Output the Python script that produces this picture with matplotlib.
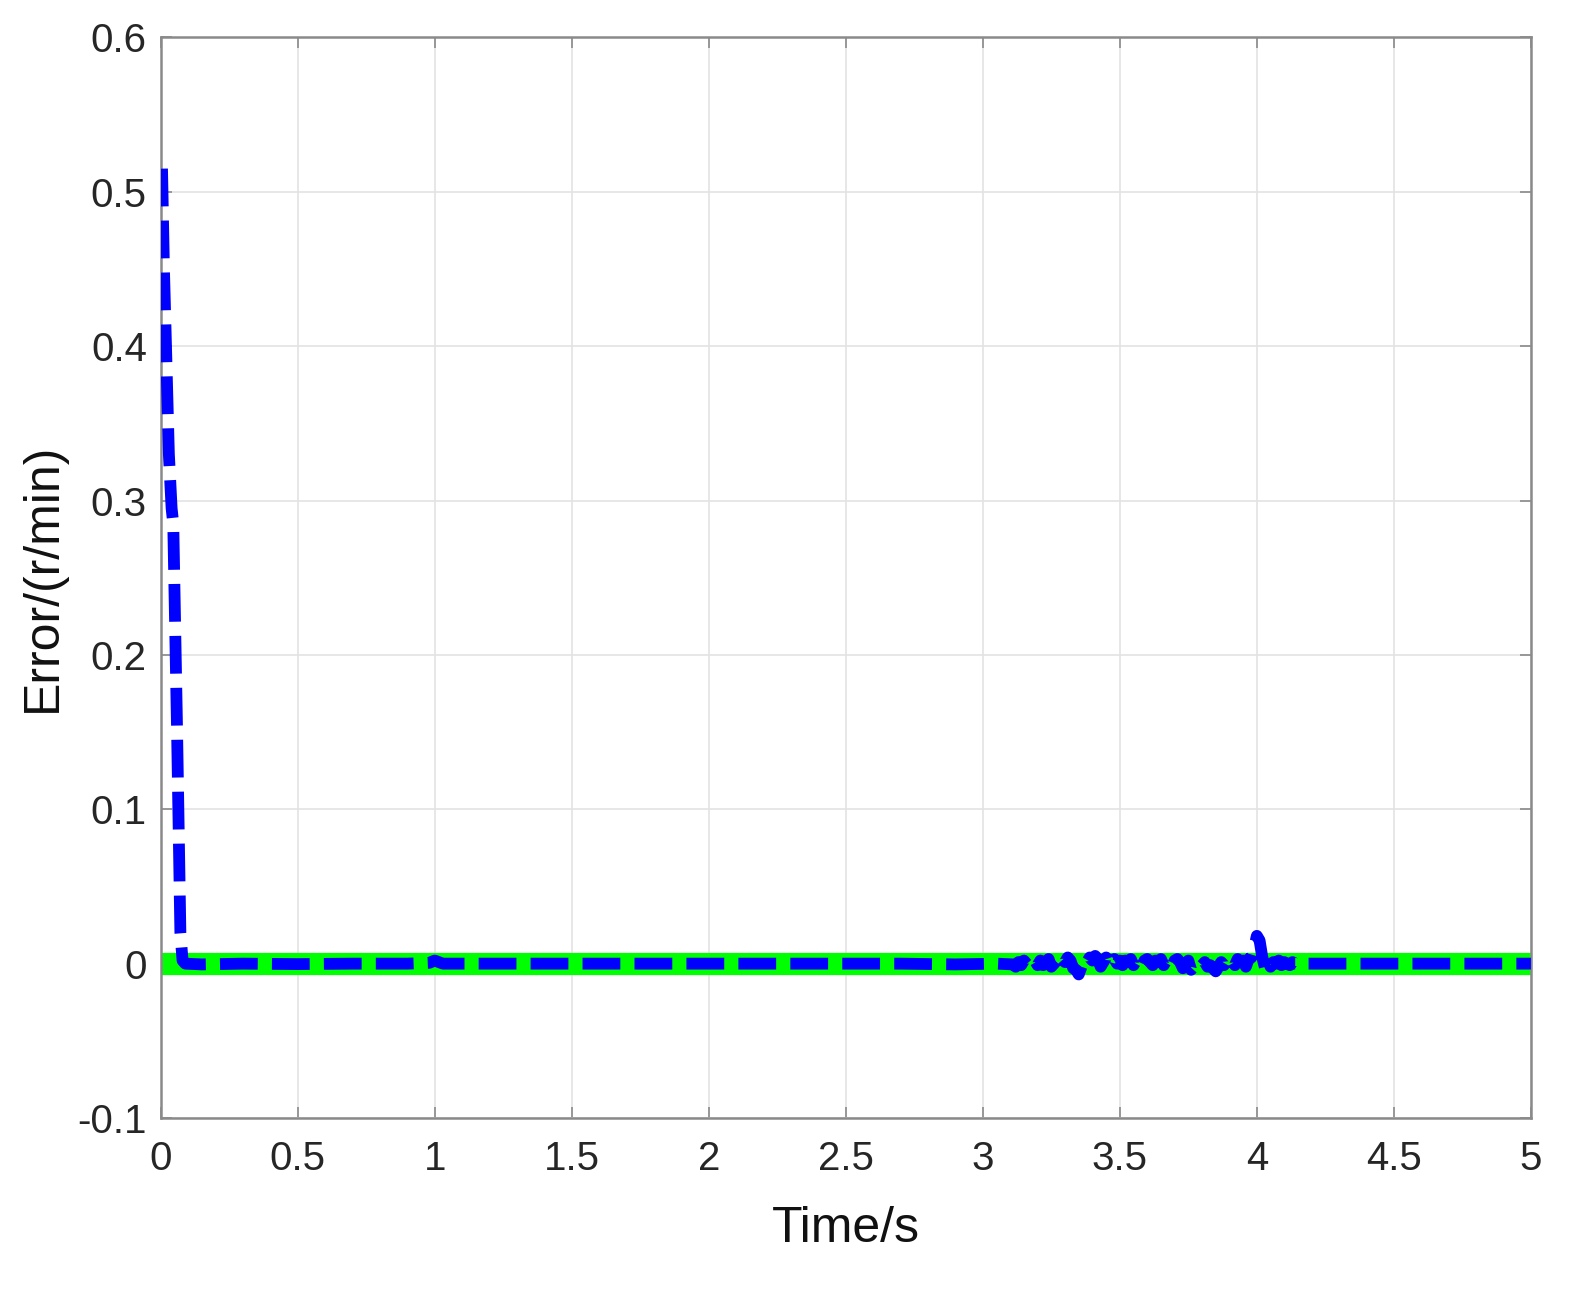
import numpy as np
import matplotlib.pyplot as plt

plt.rcParams['font.family'] = ['Liberation Sans', 'DejaVu Sans']
plt.rcParams['axes.unicode_minus'] = False

# reference signal (zero error)
ref_t = [0.0, 5.0]
ref_err = [0.0, 0.0]

# speed error: initial transient
t_start = [0.005, 0.012, 0.030, 0.040, 0.046, 0.060, 0.072, 0.080, 0.090]
e_start = [0.515, 0.450, 0.330, 0.295, 0.285, 0.150, 0.020, 0.002, 0.0]

# steady part up to the disturbance
t_mid = [0.15, 0.30, 0.50, 0.70, 0.90, 0.98, 1.00, 1.03, 1.20, 1.50, 1.80,
         2.10, 2.40, 2.70, 2.90, 3.05, 3.11]
e_mid = [-0.0005, 0.0, -0.0003, 0.0, 0.0, 0.0005, 0.002, 0.0, 0.0, 0.0, 0.0,
         0.0, 0.0, 0.0, -0.0005, 0.0, -0.0005]

# disturbance region 3.12 .. 4.20 s
t_dist = [3.12, 3.13, 3.14, 3.15, 3.16, 3.17, 3.18, 3.19, 3.20,
          3.21, 3.22, 3.23, 3.24, 3.25, 3.26, 3.27, 3.28, 3.29, 3.30,
          3.31, 3.32, 3.33, 3.34, 3.35, 3.36, 3.37, 3.38, 3.39, 3.40,
          3.41, 3.42, 3.43, 3.44, 3.45, 3.46, 3.47, 3.48, 3.49, 3.50,
          3.51, 3.52, 3.53, 3.54, 3.55, 3.56, 3.57, 3.58, 3.59, 3.60,
          3.61, 3.62, 3.63, 3.64, 3.65, 3.66, 3.67, 3.68, 3.69, 3.70,
          3.71, 3.72, 3.73, 3.74, 3.75, 3.76, 3.77, 3.78, 3.79, 3.80,
          3.81, 3.82, 3.83, 3.84, 3.85, 3.86, 3.87, 3.88, 3.89, 3.90,
          3.91, 3.92, 3.93, 3.94, 3.95, 3.96, 3.97, 3.98, 3.99, 4.00,
          4.01, 4.02, 4.03, 4.04, 4.05, 4.06, 4.07, 4.08, 4.09, 4.10,
          4.11, 4.12, 4.13, 4.14, 4.15, 4.16, 4.17, 4.18, 4.19, 4.20]
e_dist = [-0.002, 0.001, -0.001, 0.002, 0.0, -0.002, 0.001, 0.002, -0.001,
          0.002, -0.001, 0.001, 0.003, -0.002, 0.0, 0.002, -0.001, 0.003, 0.001,
          0.004, 0.002, -0.003, -0.004, -0.007, -0.002, 0.003, 0.001, 0.004, 0.002,
          0.005, 0.003, -0.002, 0.001, 0.004, -0.001, 0.002, 0.003, 0.0, 0.002,
          -0.001, 0.002, 0.001, 0.003, -0.001, 0.002, 0.0, -0.002, 0.002, 0.003,
          0.001, -0.001, 0.002, 0.001, 0.003, -0.001, 0.002, 0.0, -0.002, 0.002,
          0.003, 0.001, -0.003, -0.001, 0.002, -0.004, -0.002, 0.001, 0.0, -0.001,
          0.001, -0.002, -0.001, -0.003, -0.005, -0.002, 0.001, -0.001, 0.002, 0.0,
          0.002, -0.001, 0.003, 0.001, 0.002, -0.002, 0.003, 0.004, 0.010, 0.018,
          0.015, 0.004, -0.003, 0.002, -0.002, 0.001, 0.0, 0.002, -0.001, 0.001,
          0.0, -0.001, 0.001, 0.0, 0.0, 0.001, 0.0, 0.0, 0.0, 0.0]

# tail
t_end = [4.40, 4.60, 4.80, 5.00]
e_end = [0.0, 0.0, 0.0, 0.0]

err_t = np.array(t_start + t_mid + t_dist + t_end)
err = np.array(e_start + e_mid + e_dist + e_end)

xticks = [0, 0.5, 1, 1.5, 2, 2.5, 3, 3.5, 4, 4.5, 5]
xticklabels = ['0', '0.5', '1', '1.5', '2', '2.5', '3', '3.5', '4', '4.5', '5']
yticks = [-0.1, 0, 0.1, 0.2, 0.3, 0.4, 0.5, 0.6]
yticklabels = ['-0.1', '0', '0.1', '0.2', '0.3', '0.4', '0.5', '0.6']

fig = plt.figure(figsize=(15.75, 12.91), dpi=100)
ax = fig.add_axes([0.102, 0.134, 0.870, 0.837])

ax.plot(ref_t, ref_err, color='#00ff00', lw=16, solid_capstyle='butt', zorder=2)
ax.plot(err_t, err, color='#0000ff', lw=8.5, linestyle=(0, (3.2, 1.2)),
        dash_capstyle='butt', dash_joinstyle='round', zorder=3)

ax.set_xlim(0, 5)
ax.set_ylim(-0.1, 0.6)
ax.set_xticks(xticks)
ax.set_xticklabels(xticklabels)
ax.set_yticks(yticks)
ax.set_yticklabels(yticklabels)

ax.grid(True, color='#e3e3e3', lw=1.2)
ax.set_axisbelow(True)
for s in ax.spines.values():
    s.set_color('#8a8a8a')
    s.set_linewidth(1.8)
ax.tick_params(direction='in', length=8, width=1.2, color='#8a8a8a',
               top=True, right=True, labelsize=29, labelcolor='#262626')
ax.tick_params(axis='x', pad=16)
ax.tick_params(axis='y', pad=10)

ax.set_xlabel('Time/s', fontsize=36, color='#111111', labelpad=20)
ax.set_ylabel('Error/(r/min)', fontsize=36, color='#111111', labelpad=8)

fig.savefig('out.png', dpi=100)
